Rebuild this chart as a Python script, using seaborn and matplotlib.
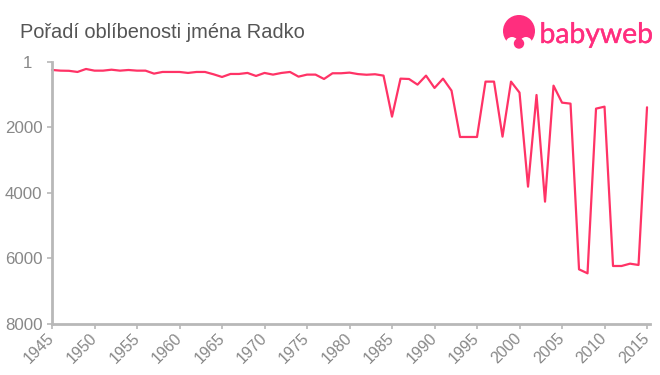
"""Rank of the name Radko by year, 1945-2015."""

import matplotlib
matplotlib.use("Agg")
import matplotlib.pyplot as plt
import matplotlib.patheffects as pe
from matplotlib.patches import Circle, Ellipse
from matplotlib.transforms import ScaledTranslation
import pandas as pd
import seaborn as sns

years = list(range(1945, 2016))
ranks = [
    244, 265, 270, 305, 214, 265, 265, 236, 265, 245,
    265, 265, 356, 305, 305, 305, 335, 305, 305, 376,
    458, 366, 366, 335, 427, 335, 386, 335, 305, 448,
    386, 386, 519, 345, 345, 325, 370, 390, 375, 417,
    1670, 509, 520, 692, 417, 794, 509, 875, 2290, 2290,
    2290, 600, 600, 2280, 600, 936, 3807, 1008, 4265, 723,
    1242, 1272, 6331, 6453, 1425, 1364, 6229, 6229, 6158, 6198,
    1384,
]
x_ticks = list(range(1945, 2016, 5))
y_ticks = [1, 2000, 4000, 6000, 8000]

title = "Pořadí oblíbenosti jména Radko"
LINE = "#ff3366"
PINK = "#ff2e7e"
AXIS = "#b8b8b8"
TEXT = "#888888"

sns.set_theme(style="ticks")
plt.rcParams["font.family"] = ["Liberation Sans", "DejaVu Sans"]

fig = plt.figure(figsize=(6.6, 3.75), dpi=100)
ax = fig.add_axes([52 / 660, 1 - 324 / 375, 598 / 660, 262 / 375])

df = pd.DataFrame({"year": years, "rank": ranks})
sns.lineplot(data=df, x="year", y="rank", color=LINE, linewidth=1.6, ax=ax, clip_on=False)

ax.set_xlim(1945, 2015.35)
ax.set_ylim(8000, 1)
ax.set_xlabel("")
ax.set_ylabel("")
ax.set_xticks(x_ticks)
ax.set_yticks(y_ticks)
ax.set_xticklabels(x_ticks, rotation=45, ha="right", va="center", rotation_mode="anchor")
ax.tick_params(axis="both", length=3.5, width=1.2, color=AXIS, labelcolor=TEXT, labelsize=12.2)
ax.tick_params(axis="x", pad=4.8, labelsize=11.4)
ax.tick_params(axis="y", pad=3.5)
# the "1" label sits further left than the others
top_label = ax.get_yticklabels()[0]
top_label.set_transform(top_label.get_transform() + ScaledTranslation(-10 / 100, 0, fig.dpi_scale_trans))
sns.despine(ax=ax)
for side in ["left", "bottom"]:
    ax.spines[side].set_color(AXIS)
    ax.spines[side].set_linewidth(2)

fig.text(20 / 660, 1 - 37.5 / 375, title, fontsize=14.4, color="#555555", va="baseline")

# logo drawn in pixel coordinates on top of everything
logo = fig.add_axes([0, 0, 1, 1], facecolor="none")
logo.set_xlim(0, 660)
logo.set_ylim(375, 0)
logo.axis("off")
logo.add_patch(Circle((519, 31), 16, color=PINK, lw=0))
logo.add_patch(Ellipse((512, 44), 13, 14, color="white", lw=0))
logo.add_patch(Ellipse((526, 44), 13, 14, color="white", lw=0))
logo.add_patch(Ellipse((519, 50), 24, 12, color="white", lw=0))
logo.add_patch(Ellipse((519, 37), 4, 6, color=PINK, lw=0))
logo.add_patch(Circle((519, 43.5), 5.2, color=PINK, lw=0))
logo.text(
    539.5, 43, "babyweb", color=PINK, fontsize=20.4, family="Lato", va="baseline", ha="left",
    path_effects=[pe.withStroke(linewidth=0.25, foreground=PINK)],
)

fig.savefig("out.png", dpi=100)
